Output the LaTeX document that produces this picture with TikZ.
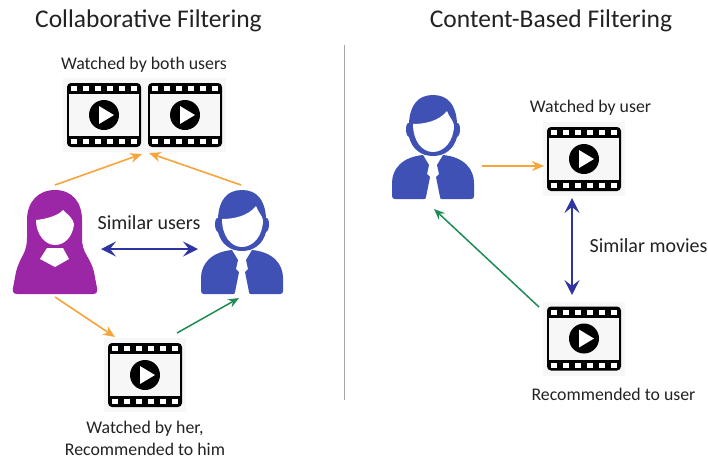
\documentclass[tikz,border=0pt]{standalone}
\usepackage{fontspec}
\setmainfont{Carlito}
\usepackage{xcolor}
\usetikzlibrary{arrows.meta}
\definecolor{manblue}{HTML}{3F51B5}
\definecolor{herpurple}{HTML}{9C27A6}
\definecolor{arroworange}{HTML}{F9A33B}
\definecolor{arrowgreen}{HTML}{1E8A55}
\definecolor{arrownavy}{HTML}{2F35A0}
\definecolor{filmbg}{HTML}{F7F7F7}
\definecolor{labelgray}{HTML}{222222}

\begin{document}
\begin{tikzpicture}[
        x=1pt, y=-1pt,
        filmbox/.style={rectangle, fill=filmbg, minimum width=82pt, minimum height=74pt, inner sep=0pt},
        titlelabel/.style={font=\fontsize{25.5}{30}\selectfont, text=labelgray, align=center, inner sep=0pt},
        textlabel/.style={font=\fontsize{17.8}{22}\selectfont, text=labelgray, align=center, inner sep=0pt},
        biglabel/.style={font=\fontsize{20}{24}\selectfont, text=labelgray, align=center, inner sep=0pt},
        orangearrow/.style={-{Stealth[length=12pt, width=10pt, inset=4pt]}, line width=1.6pt, arroworange},
        greenarrow/.style={-{Stealth[length=11pt, width=9pt, inset=4pt]}, line width=1.5pt, arrowgreen},
        navyarrow/.style={{Stealth[length=15pt, width=15pt, inset=6pt]}-{Stealth[length=15pt, width=15pt, inset=6pt]}, line width=2.2pt, arrownavy},
        film/.pic={
            \fill[black, rounded corners=4pt] (-37,-32) rectangle (37,32);
            \fill[filmbg] (-35,-21) rectangle (35,21);
            \foreach \n in {-30,-18,-6,6,18,30} {
                \fill[white] (\n-3,-29) rectangle (\n+3,-24);
                \fill[white] (\n-3,24) rectangle (\n+3,29);
            }
            \fill[black] (0,0) circle (15);
            \fill[white] (-5,-9) -- (10,0) -- (-5,9) -- cycle;
        },
        man/.pic={
            \fill[manblue] (0,-52) .. controls (15,-52) and (23,-42) .. (24,-24)
                .. controls (28,-25) and (28,-11) .. (24,-10)
                .. controls (21,2) and (12,9) .. (0,9)
                .. controls (-12,9) and (-21,2) .. (-24,-10)
                .. controls (-28,-11) and (-28,-25) .. (-24,-24)
                .. controls (-23,-42) and (-15,-52) .. (0,-52) -- cycle;
            \fill[white] (-20,-23) .. controls (-8,-23) and (6,-26) .. (14,-36)
                .. controls (16,-30) and (20,-27) .. (21,-22)
                .. controls (21,-6) and (11,5) .. (0,5)
                .. controls (-11,5) and (-20,-6) .. (-20,-23) -- cycle;
            \foreach \s in {1,-1} {
                \fill[manblue, xscale=\s] (-10,8) -- (-4,18) -- (-6,27) -- (-3,30) -- (-7,50)
                    .. controls (-7,52) and (-8,52) .. (-9,52) -- (-38,52)
                    .. controls (-40,52) and (-41,51) .. (-41,49) -- (-41,36)
                    .. controls (-41,22) and (-31,10) .. (-10,8) -- cycle;
            }
        },
        woman/.pic={
            \fill[herpurple] (0,-52) .. controls (17,-52) and (27,-40) .. (27,-22)
                -- (27,-4) .. controls (27,12) and (35,14) .. (39,30)
                -- (42,46) .. controls (43,50) and (41,52) .. (38,52)
                -- (-38,52) .. controls (-41,52) and (-43,50) .. (-42,46)
                -- (-39,30) .. controls (-35,14) and (-28,12) .. (-28,-4)
                -- (-28,-22) .. controls (-28,-40) and (-17,-52) .. (0,-52) -- cycle;
            \fill[white] (-19,-22) .. controls (-8,-23) and (4,-27) .. (8,-32)
                .. controls (12,-28) and (18,-24) .. (19,-18)
                .. controls (18,-6) and (10,3) .. (0,3)
                .. controls (-10,3) and (-19,-8) .. (-19,-22) -- cycle;
            \fill[white] (-8,6) -- (8,6) -- (14,17) -- (0,25) -- (-15,17) -- cycle;
        }
    ]

    \useasboundingbox (0,0) rectangle (708,459);

    % Collaborative
    \node[titlelabel] (collabtitle) at (148.5,21) {Collaborative Filtering};
    \node[textlabel] (bothlabel) at (144,65) {Watched by both users};
    \node[filmbox, minimum width=163pt] (bothbox) at (144,115) {};
    \pic at (104,115) {film};
    \pic at (185,115) {film};
    \pic at (55,242) {woman};
    \pic at (242,242) {man};
    \node[biglabel] (simusers) at (149,223) {Similar users};
    \node[filmbox] (herbox) at (145,375) {};
    \pic at (145,375) {film};
    \node[textlabel] (herlabel) at (145,438) {Watched by her,\\Recommended to him};

    % Divider
    \coordinate (divtop) at (344,45);
    \coordinate (divbot) at (344,400);
    \draw[gray!70, line width=1pt] (divtop) -- (divbot);

    % Content
    \node[titlelabel] (contenttitle) at (551,21) {Content-Based Filtering};
    \node[textlabel] (userlabel) at (590.5,108) {Watched by user};
    \node[filmbox] (userbox) at (584,159) {};
    \pic at (584,159) {film};
    \pic at (433,147) {man};
    \node[biglabel] (simmovies) at (648.5,246) {Similar movies};
    \node[filmbox] (recbox) at (584,338.5) {};
    \pic at (584,338.5) {film};
    \node[textlabel] (reclabel) at (613.5,394) {Recommended to user};

    % Connector ends
    \coordinate (herup) at (55,185);
    \coordinate (himup) at (241,185);
    \coordinate (bothl) at (142,154);
    \coordinate (bothr) at (149,153);
    \coordinate (simleft) at (101,249);
    \coordinate (simright) at (198,249);
    \coordinate (herdown) at (55,297);
    \coordinate (herin) at (115,337);
    \coordinate (herout) at (177,333);
    \coordinate (himdown) at (239,298);
    \coordinate (manright) at (482,166);
    \coordinate (userin) at (544,166);
    \coordinate (usertop) at (572,198);
    \coordinate (recbot) at (572,295);
    \coordinate (recout) at (539,307);
    \coordinate (manbot) at (434,209);

    % Connections
    \draw[orangearrow] (herup) -- (bothl);
    \draw[orangearrow] (himup) -- (bothr);
    \draw[navyarrow] (simleft) -- (simright);
    \draw[orangearrow] (herdown) -- (herin);
    \draw[greenarrow] (herout) -- (himdown);
    \draw[orangearrow, line width=2.2pt] (manright) -- (userin);
    \draw[navyarrow] (usertop) -- (recbot);
    \draw[greenarrow] (recout) -- (manbot);

\end{tikzpicture}
\end{document}
